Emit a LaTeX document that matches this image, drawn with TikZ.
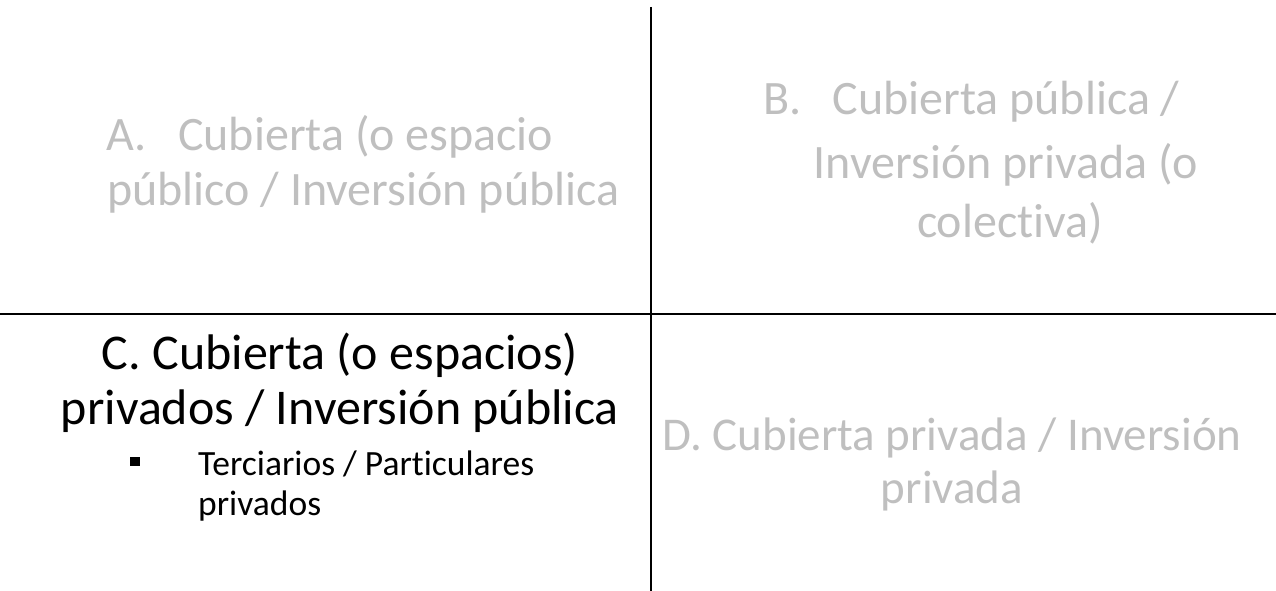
\documentclass[tikz,border=0pt]{standalone}
\usepackage{fontspec}
\setmainfont{Carlito}[Ligatures=NoCommon, RawFeature={-liga;-clig;-dlig}]
\definecolor{txtgray}{HTML}{BFBFBF}
\tikzset{
  big/.style={inner sep=0pt, font=\fontsize{48}{54}\selectfont},
  grey/.style={big, text=txtgray},
  cbig/.style={inner sep=0pt, font=\fontsize{50}{56}\selectfont},
  dgrey/.style={inner sep=0pt, text=txtgray, font=\fontsize{47}{53}\selectfont},
  small/.style={inner sep=0pt, font=\fontsize{35.5}{40}\selectfont},
  rule/.style={line width=2.5pt, black},
  bulletbox/.style={fill=black, minimum size=9.5pt, inner sep=0pt}
}
\begin{document}
\begin{tikzpicture}[x=1pt,y=-1pt]
\useasboundingbox (0,0) rectangle (1276,591);
\coordinate (vt) at (651,7);
\coordinate (vb) at (651,591);
\coordinate (hl) at (0,314);
\coordinate (hr) at (1276,314);
\draw[rule] (vt) -- (vb);
\draw[rule] (hl) -- (hr);
% A
\node[grey, anchor=base west] (a1n) at (106,150) {A.};
\node[grey, anchor=base west] (a1) at (178,150) {Cubierta (o espacio};
\node[grey, anchor=base west] (a2) at (107,205) {público / Inversión pública};
% B
\node[grey, anchor=base west] (b1n) at (763,115) {B.};
\node[grey, anchor=base] (b1) at (1006,115) {Cubierta pública /};
\node[grey, anchor=base] (b2) at (1006,178) {Inversión privada (o};
\node[grey, anchor=base] (b3) at (1010,237) {colectiva)};
% C
\node[cbig, anchor=base] (c1) at (340,369) {C. Cubierta (o espacios)};
\node[cbig, anchor=base] (c2) at (340,424) {privados / Inversión pública};
\node[bulletbox] (bul) at (135,461.5) {};
\node[small, anchor=base west] (c3) at (198,475) {Terciarios / Particulares};
\node[small, anchor=base west] (c4) at (198,515) {privados};
% D
\node[dgrey, anchor=base] (d1) at (952,450) {D. Cubierta privada / Inversión};
\node[dgrey, anchor=base] (d2) at (952,503) {privada};
\end{tikzpicture}
\end{document}
